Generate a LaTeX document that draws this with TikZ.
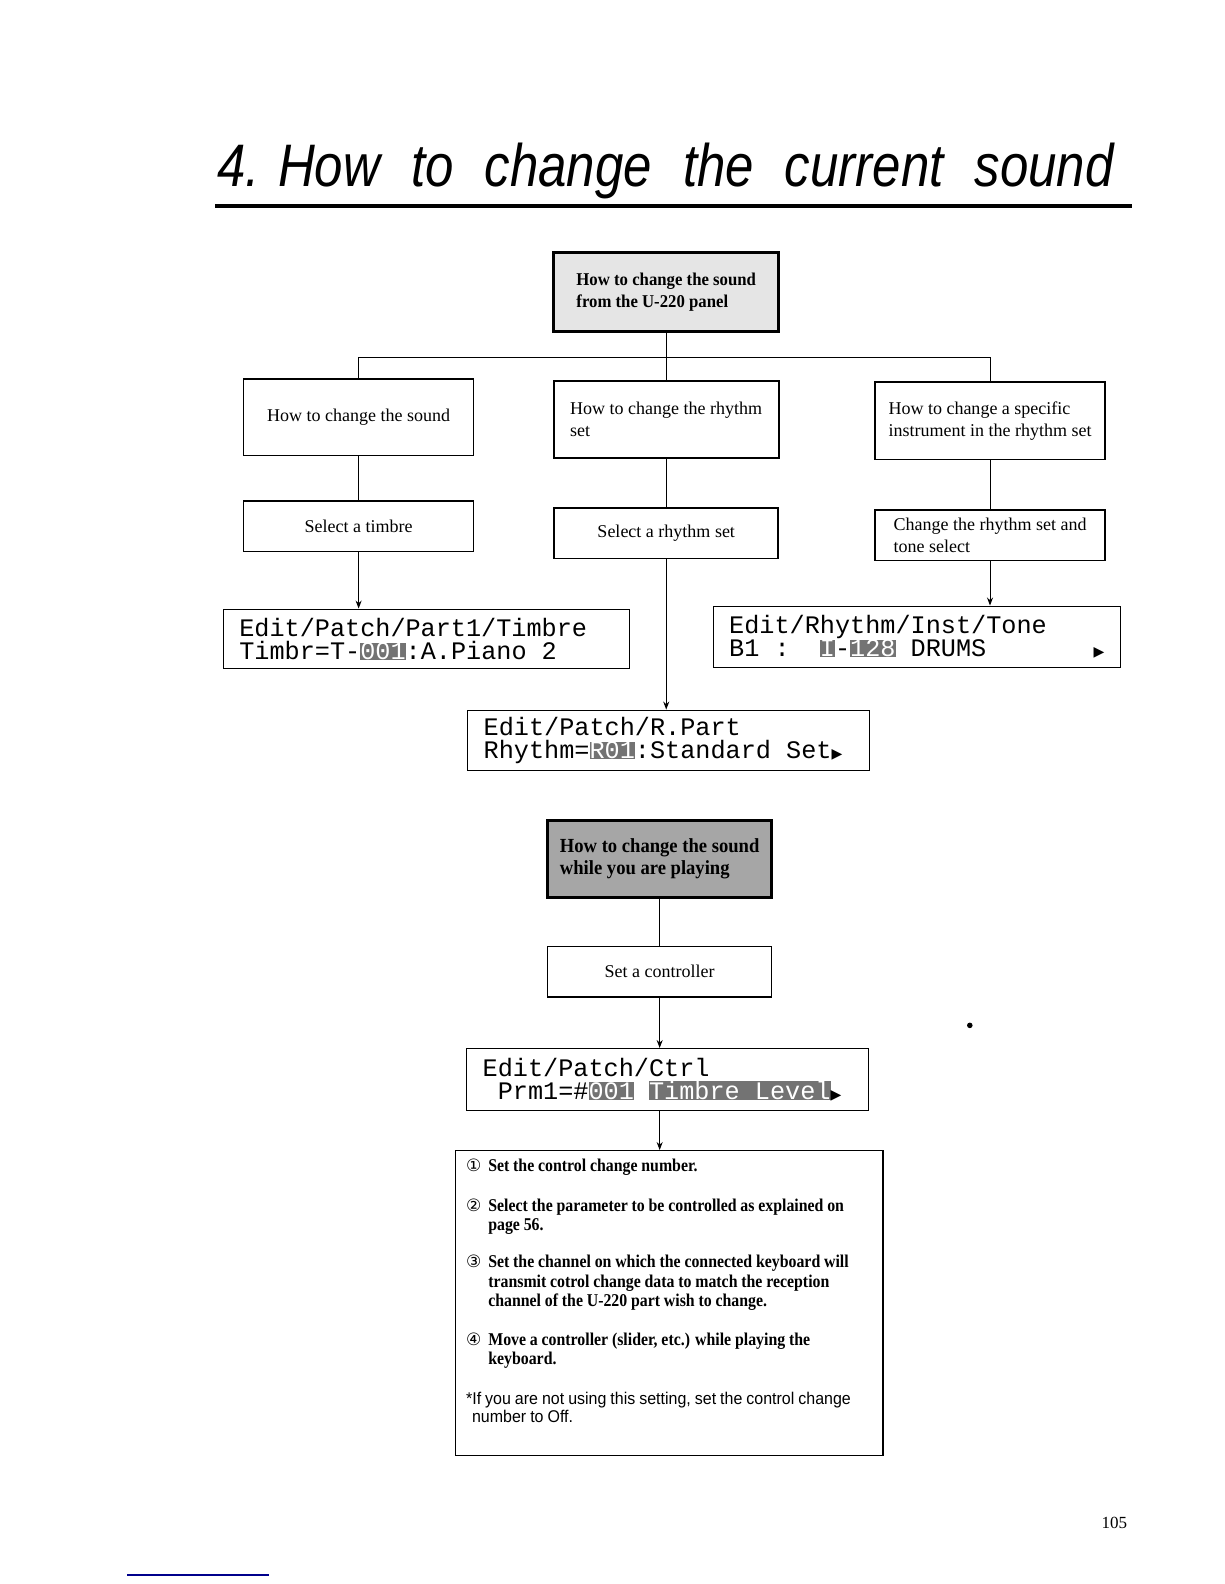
\documentclass[tikz,border=0pt]{standalone}
\usepackage{fontspec}
\setmainfont{Liberation Serif}
\newfontfamily\titlefont{Liberation Sans}[FakeStretch=0.85]
\newfontfamily\headfont{Liberation Serif}[FakeStretch=0.93]
\newfontfamily\stepfont{Liberation Serif}[FakeStretch=0.88]
\newfontfamily\notefont{Liberation Sans}[FakeStretch=0.94]
\newfontfamily\lcdfont{Liberation Mono}
\newfontfamily\circfont{DejaVu Sans}
\usetikzlibrary{arrows.meta}

\newcommand{\lcdhi}[1]{{\setlength{\fboxsep}{0pt}\colorbox{black!55}{\textcolor{white}{#1}}}}
\newcommand{\lcdtri}{{\circfont\fontsize{7}{7}\selectfont ▶}}
\newcommand{\stepnum}[2]{\makebox[11.1pt][l]{\circfont\mdseries\fontsize{8.5}{8.5}\selectfont #1}%
  \begin{tabular}[t]{@{}l@{}}#2\end{tabular}}

\begin{document}
\begin{tikzpicture}[x=0.505pt,y=-0.505pt,
  qbox/.style={draw,line width=0.8pt,align=left,inner sep=0pt,font=\fontsize{9}{11.1}\selectfont},
  headbox/.style={qbox,line width=1.5pt,font=\headfont\bfseries\fontsize{9}{11.1}\selectfont},
  lcd/.style={draw,line width=0.6pt,align=left,inner xsep=8pt,inner ysep=0pt,
    font=\lcdfont\fontsize{12.6}{11.6}\selectfont,execute at begin node={\spaceskip=0.6em\relax}},
  link/.style={line width=0.5pt},
  flow/.style={link,-{Stealth[length=4pt,width=3pt]}},
  steptext/.style={anchor=base west,inner sep=0pt,
    font=\stepfont\bfseries\fontsize{9}{9.6}\selectfont,execute at begin node={\spaceskip=1.9pt plus 0.5pt\relax}},
  notetext/.style={steptext,font=\notefont\fontsize{8.5}{9}\selectfont,execute at begin node={\spaceskip=2pt plus 0.5pt\relax}}]
  \useasboundingbox (0,0) rectangle (1212,1568);

  % title and rule
  \node[anchor=base west,inner sep=0pt,font=\titlefont\itshape\fontsize{30}{30}\selectfont] (title) at (215,185)
    {4.\hspace{9pt}How\hspace{15.5pt}to\hspace{15.5pt}change\hspace{15.5pt}the\hspace{15.5pt}current\hspace{15.5pt}sound};
  \draw[line width=2pt] (213,204) -- (1121,204);

  % from the panel
  \node[headbox,fill=black!10,minimum width=112.6pt,minimum height=39.4pt] (panel) at (659.5,289) {How to change the sound\\from the U-220 panel};
  \coordinate (split) at (659.5,354);
  \node[qbox,minimum width=115pt,minimum height=38.4pt] (soundq) at (355,413) {How to change the sound};
  \node[qbox,line width=1pt,minimum width=112.6pt,minimum height=38.4pt] (rhythmq) at (659.5,415) {How to change the rhythm\\set};
  \node[qbox,minimum width=115pt,minimum height=38.9pt] (instq) at (980,416.5) {How to change a specific\\instrument in the rhythm set};
  \node[qbox,minimum width=115pt,minimum height=25.25pt] (timbre) at (355,521) {Select a timbre};
  \node[qbox,minimum width=112pt,minimum height=25.25pt] (rset) at (659.5,528) {Select a rhythm set};
  \node[qbox,minimum width=115pt,minimum height=25.25pt] (tonesel) at (980,530) {Change the rhythm set and\\tone select};

  \node[lcd,text width=187pt,minimum height=29.8pt] (lcdpart) at (422,632.5)
    {Edit/Patch/Part1/Timbre\\Timbr=T-\lcdhi{001}:A.Piano 2};
  \node[lcd,text width=187.5pt,minimum height=30.8pt] (lcdinst) at (907.5,630.5)
    {Edit/Rhythm/Inst/Tone\\B1 :\ \ \lcdhi{I}-\lcdhi{128} DRUMS\hspace{0pt plus 1filll}\lcdtri};
  \node[lcd,text width=185pt,minimum height=30.3pt] (lcdrpart) at (662,733)
    {Edit/Patch/R.Part\\Rhythm=\lcdhi{R01}:Standard Set\lcdtri};

  \draw[link] (panel) -- (split);
  \draw[link] (split) -| (soundq.north);
  \draw[link] (split) -- (rhythmq);
  \draw[link] (split) -| (instq.north);
  \draw[link] (soundq) -- (timbre);
  \draw[link] (rhythmq) -- (rset);
  \draw[link] (instq) -- (tonesel);
  \draw[flow] (timbre) -- (timbre.south |- lcdpart.north);
  \draw[flow] (rset) -- (rset.south |- lcdrpart.north);
  \draw[flow] (tonesel) -- (tonesel.south |- lcdinst.north);

  % while playing
  \node[headbox,fill=black!35,minimum width=112pt,minimum height=38.4pt,font=\headfont\bfseries\fontsize{10}{11.1}\selectfont] (playing) at (653,850)
    {How to change the sound\\while you are playing};
  \node[qbox,minimum width=112pt,minimum height=25.25pt] (ctrl) at (653,962) {Set a controller};
  \node[lcd,text width=185pt,minimum height=30.8pt] (lcdctrl) at (661,1068.5)
    {Edit/Patch/Ctrl\\\hspace*{0.6em}Prm1=\#\lcdhi{001} \lcdhi{Timbre Level}\lcdtri};
  \node[draw,line width=0.6pt,minimum width=213.6pt,minimum height=152.5pt,inner sep=0pt] (steps) at (662.5,1290) {};

  \node[steptext] (s1) at (461,1160) {\stepnum{①}{Set the control change number.}};
  \node[steptext] (s2) at (461,1199) {\stepnum{②}{Select the parameter to be controlled as explained on\\page 56.}};
  \node[steptext] (s3) at (461,1255) {\stepnum{③}{Set the channel on which the connected keyboard will\\transmit cotrol change data to match the reception\\channel of the U-220 part wish to change.}};
  \node[steptext] (s4) at (461,1332) {\stepnum{④}{Move a controller (slider, etc.) while playing the\\keyboard.}};
  \node[notetext] (note) at (461,1390) {\begin{tabular}[t]{@{}l@{}}*If you are not using this setting, set the control change\\\hspace*{3pt}number to Off.\end{tabular}};

  \draw[link] (playing) -- (ctrl);
  \draw[flow] (ctrl) -- (ctrl.south |- lcdctrl.north);
  \draw[flow] (lcdctrl.south -| ctrl.south) -- (steps.north -| ctrl.south);

  % page furniture
  \node[font=\fontsize{8.5}{8.5}\selectfont] (pagenum) at (1103,1508) {105};
  \draw[blue!55!black,line width=0.8pt] (126,1559) -- (266,1559);
  \fill (960,1015) circle (1.4pt);
\end{tikzpicture}
\end{document}
